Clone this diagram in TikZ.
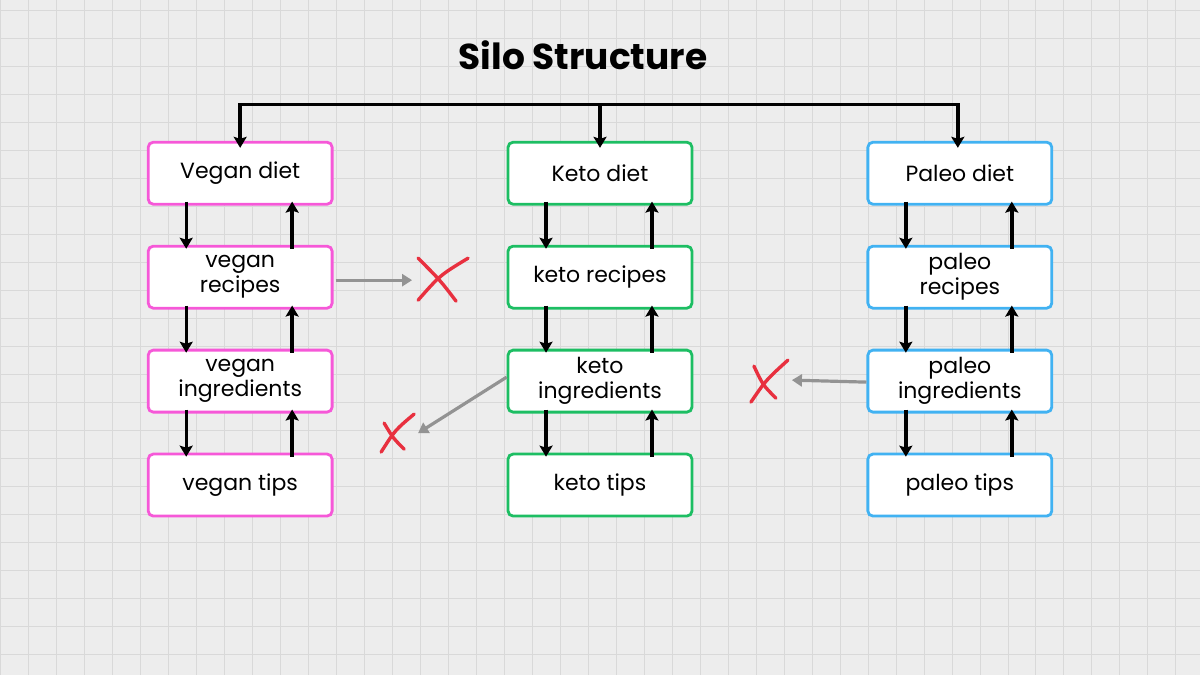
\documentclass[tikz,border=0pt]{standalone}
\usepackage{fontspec}
\setmainfont{Poppins}
\usetikzlibrary{arrows.meta}
\definecolor{pinkc}{HTML}{F658D8}
\definecolor{greenc}{HTML}{1DBE63}
\definecolor{bluec}{HTML}{41B2F2}
\definecolor{xred}{HTML}{E8303F}
\begin{document}
\begin{tikzpicture}[x=1pt,y=-1pt,
  box/.style={draw=#1,line width=2.8pt,fill=white,rounded corners=5pt,minimum width=184pt,minimum height=62pt,align=center,font=\fontsize{22}{25}\selectfont,inner sep=0pt},
  blk/.style={-{Stealth[length=11pt,width=13pt,inset=2pt]},line width=3.4pt},
  gry/.style={-{Triangle[length=10pt,width=12pt]},line width=3.2pt,draw=gray!85},
  xm/.style={xred,line width=3.4pt,line cap=round}]
\fill[gray!14] (0,0) rectangle (1200,675);
\foreach \x in {0,28,...,1200} \draw[gray!30,line width=0.6pt] (\x,0)--(\x,675);
\foreach \y in {10,38,...,675} \draw[gray!30,line width=0.6pt] (0,\y)--(1200,\y);
\useasboundingbox (0,0) rectangle (1200,675);
\node[font=\fontsize{36}{40}\selectfont\bfseries] (title) at (583,55) {Silo Structure};
\node[box=pinkc] (v1) at (240,173) {Vegan diet};
\node[box=pinkc] (v2) at (240,277) {vegan\\recipes};
\node[box=pinkc] (v3) at (240,381) {vegan\\ingredients};
\node[box=pinkc] (v4) at (240,485) {vegan tips};
\node[box=greenc] (k1) at (600,173) {Keto diet};
\node[box=greenc] (k2) at (600,277) {keto recipes};
\node[box=greenc] (k3) at (600,381) {keto\\ingredients};
\node[box=greenc] (k4) at (600,485) {keto tips};
\node[box=bluec] (p1) at (960,173) {Paleo diet};
\node[box=bluec] (p2) at (960,277) {paleo\\recipes};
\node[box=bluec] (p3) at (960,381) {paleo\\ingredients};
\node[box=bluec] (p4) at (960,485) {paleo tips};
\foreach \c in {v,k,p}{
  \foreach \a/\b in {1/2,2/3,3/4}{
    \draw[blk] ([xshift=-54pt,yshift=4pt]\c\a.south) -- ([xshift=-54pt,yshift=-4pt]\c\b.north);
    \draw[blk] ([xshift=52pt,yshift=-4pt]\c\b.north) -- ([xshift=52pt,yshift=4pt]\c\a.south);
  }
}
\coordinate (tl) at (240,104); \coordinate (tr) at (958,104); \coordinate (tm) at (600,104);
\draw[line width=3.4pt,line cap=rect] (tl) -- (tr);
\draw[blk] (tl) -- ([yshift=-7pt]v1.north);
\draw[blk] (tm) -- ([yshift=-7pt]k1.north);
\draw[blk] (tr) -- ([xshift=-2pt,yshift=-7pt]p1.north);
\coordinate (x1) at (412,280); \coordinate (x2) at (418,433); \coordinate (x3) at (792,380);
\draw[gry] (v2.east) ++(2,3) -- (x1);
\draw[gry] ([yshift=4pt]k3.west) -- (x2);
\draw[gry] ([yshift=-1pt]p3.west) -- (x3);
\draw[xm] (418,300) .. controls (440,275) .. (468,258);
\draw[xm] (418,258) .. controls (440,280) .. (456,301);
\draw[xm] (381,452) .. controls (395,430) .. (414,414);
\draw[xm] (384,423) .. controls (393,438) .. (404,449);
\draw[xm] (751,402) .. controls (766,380) .. (788,360);
\draw[xm] (754,366) .. controls (763,385) .. (776,398);
\end{tikzpicture}
\end{document}
